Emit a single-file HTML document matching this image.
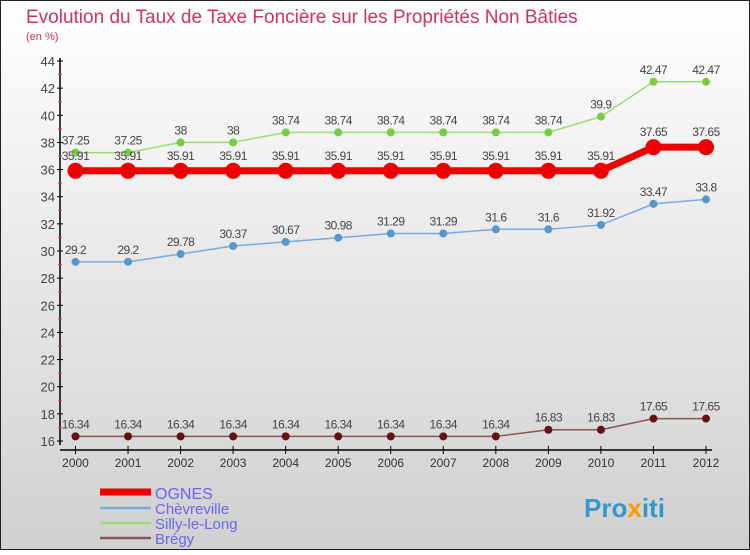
<!DOCTYPE html>
<html><head><meta charset="utf-8"><style>
body{margin:0;padding:0}
#c{width:750px;height:550px;position:relative;font-family:"Liberation Sans","DejaVu Sans",sans-serif}
</style></head><body>
<div id="c">
<svg id="svg" width="750" height="550" xmlns="http://www.w3.org/2000/svg">
<defs><linearGradient id="bg" x1="0" y1="0" x2="0" y2="1"><stop offset="0" stop-color="#ffffff"/><stop offset="1" stop-color="#d0d0d0"/></linearGradient></defs>
<rect x="0.5" y="0.5" width="749" height="549" fill="url(#bg)" stroke="#222"/>
<text x="26" y="23" font-size="19" fill="#cc3366">Evolution du Taux de Taxe Foncière sur les Propriétés Non Bâties</text>
<text x="26" y="40" font-size="11" fill="#cc3366">(en %)</text>
<g id="axes"></g><g id="series"></g><g id="legend"></g>
<text x="584" y="517" font-size="26" font-weight="bold" fill="#3399cc">Pro<tspan fill="#ff9900">x</tspan>iti</text>
</svg></div>
<script>
const years=[2000,2001,2002,2003,2004,2005,2006,2007,2008,2009,2010,2011,2012];
const yTicks=[16,18,20,22,24,26,28,30,32,34,36,38,40,42,44];
const names=["OGNES","Chèvreville","Silly-le-Long","Brégy"];
const ognes=[35.91,35.91,35.91,35.91,35.91,35.91,35.91,35.91,35.91,35.91,35.91,37.65,37.65];
const chevreville=[29.2,29.2,29.78,30.37,30.67,30.98,31.29,31.29,31.6,31.6,31.92,33.47,33.8];
const silly=[37.25,37.25,38,38,38.74,38.74,38.74,38.74,38.74,38.74,39.9,42.47,42.47];
const bregy=[16.34,16.34,16.34,16.34,16.34,16.34,16.34,16.34,16.34,16.83,16.83,17.65,17.65];
const NS="http://www.w3.org/2000/svg";
const xs=i=>75.5+i*(706-75.5)/12;
const ys=v=>441-(v-16)*(380/28);
function mk(t,a,p){const e=document.createElementNS(NS,t);for(const k in a)e.setAttribute(k,a[k]);p.appendChild(e);return e;}
const ax=document.getElementById('axes');
let yl=mk('line',{x1:60,y1:58,x2:60,y2:445,stroke:'#000','stroke-width':1.5},ax);


let xl=mk('line',{x1:60,y1:450,x2:712,y2:450,stroke:'#000','stroke-width':1.5},ax);


yTicks.forEach(v=>{
 mk('line',{x1:57,y1:ys(v),x2:63,y2:ys(v),stroke:'#000'},ax);
 if(v<44)mk('line',{x1:58,y1:ys(v+1),x2:62,y2:ys(v+1),stroke:'#f33'},ax);
 const t=mk('text',{x:55,y:ys(v)+5,'text-anchor':'end','font-size':13,fill:'#444'},ax);
 t.textContent=v;
 
 
});
years.forEach((y,i)=>{
 mk('line',{x1:xs(i),y1:446,x2:xs(i),y2:454,stroke:'#000'},ax);
 const t=mk('text',{x:xs(i),y:467,'text-anchor':'middle','font-size':12,fill:'#333'},ax);
 t.textContent=y;
 
 
});
const se=document.getElementById('series');
const defs=[[silly,'#99dd77','#77cc44',1.5,4,'silly-le-long'],[chevreville,'#77aadd','#5599cc',1.5,4,'chevreville'],[bregy,'#885555','#661111',1.5,4,'bregy'],[ognes,'#ee0000','#ee0000',7,8,'ognes']];
defs.forEach(([d,lc,pc,w,r,n])=>{
 const g=mk('g',{},se);
 
 
 const p=mk('polyline',{points:d.map((v,i)=>xs(i)+','+ys(v)).join(' '),fill:'none',stroke:lc,'stroke-width':w},g);
 
 
 d.forEach((v,i)=>{
  const c=mk('circle',{cx:xs(i),cy:ys(v),r:r,fill:pc},g);
  
  
  const t=mk('text',{x:xs(i),y:ys(v)-(n=='ognes'?11:8),'text-anchor':'middle','font-size':12,fill:'#444','letter-spacing':'-0.5'},g);
  t.textContent=v;
  
  
 });
});
const lg=document.getElementById('legend');
const lcs=[['#ee0000',7],['#77aadd',2.5],['#99dd77',2.5],['#885555',2.5]];
names.forEach((n,i)=>{
 const y=[492,508,523,538][i];
 const g=mk('g',{},lg);
 
 
 mk('line',{x1:100,y1:y,x2:151,y2:y,stroke:lcs[i][0],'stroke-width':lcs[i][1]},g);
 const t=mk('text',{x:155,y:y+(i==0?7:6),'font-size':i==0?16:15,fill:'#6666ee'},g);
 t.textContent=n;
});
</script>
</body></html>
